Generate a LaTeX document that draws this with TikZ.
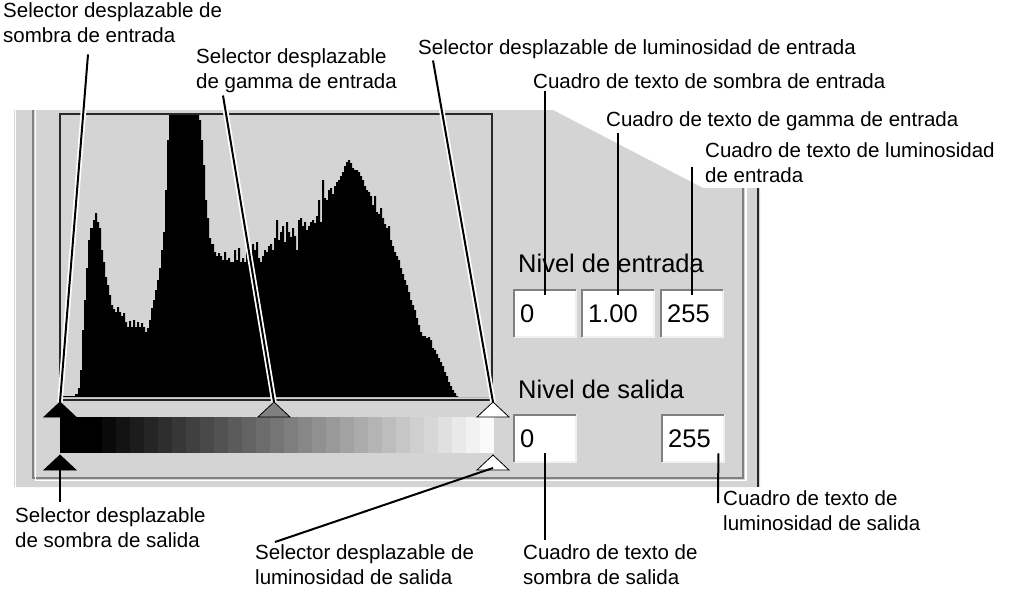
\documentclass[tikz,border=0pt]{standalone}
\usepackage{fontspec}
\setmainfont{Liberation Sans}
\usetikzlibrary{calc}
\definecolor{panelgray}{RGB}{212,212,212}
\definecolor{edgedark}{RGB}{128,128,128}
\definecolor{edgeblack}{RGB}{40,40,40}
\definecolor{gammagray}{RGB}{128,128,128}
\definecolor{edgelight}{RGB}{240,240,240}

\begin{document}
\begin{tikzpicture}[x=1pt, y=-1pt,
    note/.style={font=\fontsize{20.5}{25}\selectfont, inner sep=0pt, align=left},
    uitext/.style={font=\fontsize{25.5}{30}\selectfont, inner sep=0pt},
    valbox/.style={uitext, fill=white, anchor=north west, minimum height=47pt,
                   text width=50pt, inner xsep=6pt, align=left},
    leader/.style={black, line width=2pt},
    haloleader/.style={leader, preaction={draw, white, line width=5.5pt}},
    thumb/.style={draw=black, line width=0.8pt}]
    \useasboundingbox (0,0) rectangle (1020,590);

    % Dialog panel with the cut corner
    \fill[panelgray] (14,110) -- (553,110) -- (703,188) -- (760,188) -- (760,487) -- (14,487) -- cycle;
    \draw[white, line width=1.5pt] (15.5,110) -- (15.5,487);
    \draw[edgedark, line width=1.5pt] (33,110) |- (743,478) -- (743,188);
    \draw[white, line width=1.5pt] (35.5,110) |- (746,480.5) -- (746,188);
    \draw[edgeblack, line width=2.5pt] (758,188) -- (758,487);

    % Histogram
    \begin{scope}
        \clip (60,114) rectangle (492,400);
        \fill[black] (62,397) -- plot[const plot] coordinates {
            (62,396) (75,394) (78,388) (80,370) (82,330) (84,300) (86,268) (88,240)
            (90,228) (93,220) (95,213) (97,222) (99,228) (101,250) (103,262) (105,277)
            (107,285) (109,295) (111,305) (113,309) (115,312) (117,307) (119,312)
            (121,316) (123,313) (125,322) (127,327) (129,321) (131,327) (133,320)
            (135,327) (137,322) (139,327) (141,323) (143,327) (145,332) (147,328)
            (149,320) (151,308) (153,300) (155,290) (157,280) (159,268) (161,250)
            (163,232) (165,190) (167,140) (169,110) (199,120) (201,140) (203,165)
            (205,200) (207,218) (209,238) (211,244) (214,252) (216,256) (218,253)
            (220,256) (222,260) (224,252) (226,260) (228,258) (230,262) (232,262)
            (234,250) (236,260) (238,248) (240,262) (242,258) (244,262) (246,252)
            (248,246) (250,260) (252,244) (254,250) (256,242) (258,258) (260,262)
            (262,256) (264,250) (266,252) (268,246) (270,244) (272,250) (274,238)
            (276,220) (278,240) (280,232) (282,226) (284,242) (286,222) (288,232)
            (290,237) (292,228) (294,236) (296,250) (298,220) (300,218) (302,226)
            (304,222) (306,230) (308,226) (310,222) (312,220) (314,223) (316,216)
            (318,200) (320,222) (322,180) (324,198) (326,200) (328,190) (330,188)
            (332,194) (334,186) (336,182) (338,180) (340,176) (342,172) (344,166)
            (346,162) (348,160) (350,163) (352,168) (354,170) (356,170) (358,172)
            (360,176) (362,180) (364,186) (366,190) (368,192) (370,196) (372,205)
            (374,196) (376,212) (378,214) (380,208) (382,218) (384,224) (386,228)
            (388,226) (390,240) (392,246) (394,252) (396,256) (398,260) (400,268)
            (402,274) (404,280) (406,285) (408,292) (410,300) (412,305) (414,310)
            (416,318) (418,325) (420,332) (422,336) (424,336) (426,338) (428,337)
            (430,340) (432,348) (434,350) (436,354) (438,358) (440,362) (442,366)
            (444,372) (446,376) (448,382) (450,386) (452,390) (454,393) (456,396)
            (458,397) (490,397)} -- (490,397) -- cycle;
    \end{scope}
    \draw[edgeblack, line width=2pt] (60,114) rectangle (492,400);

    % Output gradient
    \fill[black] (60,417) rectangle (102,453);
    \foreach \i in {0,...,27} {
        \pgfmathsetmacro\lev{min(98,4+\i*3.5)}
        \fill[white!\lev!black] (102+\i*14,417) rectangle ++(14.4,36);
    }

    % Sliders
    \coordinate (inShadow) at (60,402);
    \coordinate (inGamma) at (274,402);
    \coordinate (inHigh) at (493,402);
    \coordinate (outShadow) at (60,455);
    \coordinate (outHigh) at (493,455);
    \foreach \pos/\col in {inShadow/black, inGamma/gammagray, inHigh/white, outShadow/black, outHigh/white}
        \filldraw[thumb, fill=\col] (\pos) -- ++(16,15) -- ++(-32,0) -- cycle;

    % Level fields
    \node[uitext, anchor=base west] (nivelIn) at (518,272) {Nivel de entrada};
    \node[uitext, anchor=base west] (nivelOut) at (518,398) {Nivel de salida};
    \node[valbox] (boxA) at (514,290) {0};
    \node[valbox, text width=60pt] (boxB) at (582,290) {1.00};
    \node[valbox] (boxC) at (661,290) {255};
    \node[valbox] (boxD) at (514,415) {0};
    \node[valbox] (boxE) at (662,415) {255};
    \foreach \b in {boxA,boxB,boxC,boxD,boxE} {
        \draw[edgelight, line width=2pt] (\b.south west) -| (\b.north east);
        \draw[edgedark, line width=2.5pt] (\b.south west) |- (\b.north east);
    }

    % Callout texts
    \node[note, anchor=north west] (selSombraIn) at (3,2) {Selector desplazable de\\sombra de entrada};
    \node[note, anchor=north west] (selGammaIn) at (196,48) {Selector desplazable\\de gamma de entrada};
    \node[note, anchor=base west] (selLumIn) at (418,54) {Selector desplazable de luminosidad de entrada};
    \node[note, anchor=base west] (txtSombraIn) at (533,88) {Cuadro de texto de sombra de entrada};
    \node[note, anchor=base west] (txtGammaIn) at (606,126) {Cuadro de texto de gamma de entrada};
    \node[note, anchor=north west] (txtLumIn) at (705,142) {Cuadro de texto de luminosidad\\de entrada};
    \node[note, anchor=north west] (selSombraOut) at (15,507) {Selector desplazable\\de sombra de salida};
    \node[note, anchor=north west] (selLumOut) at (255,544) {Selector desplazable de\\luminosidad de salida};
    \node[note, anchor=north west] (txtSombraOut) at (523,544) {Cuadro de texto de\\sombra de salida};
    \node[note, anchor=north west] (txtLumOut) at (723,490) {Cuadro de texto de\\luminosidad de salida};

    % Leaders
    \draw[haloleader] ($(selSombraIn.south west)+(85,12)$) -- (inShadow);
    \draw[haloleader] ($(selGammaIn.south west)+(27,3)$) -- (inGamma);
    \draw[haloleader] ($(selLumIn.south west)+(15,2)$) -- (inHigh);
    \draw[leader] ($(boxA.north |- txtSombraIn.south)+(0,3)$) -- ([yshift=-5pt]boxA.north);
    \draw[leader] ($(boxB.north |- txtGammaIn.south)+(0,3)$) -- ([yshift=-5pt]boxB.north);
    \draw[leader] ($(boxC.north |- txtLumIn.west)+(0,5)$) -- ([yshift=-5pt]boxC.north);
    \draw[leader] (outShadow) -- ($(outShadow |- selSombraOut.north)+(0,-5)$);
    \draw[leader] ($(outHigh)+(0,13)$) -- ($(selLumOut.north west)+(20,-2)$);
    \draw[leader] ([yshift=9pt]boxD.south) -- ($(boxD.south |- txtSombraOut.north)+(0,-4)$);
    \draw[leader] ($(boxE.south east)+(-6,-9)$) -- ($(txtLumOut.north west)+(-5,13)$);
\end{tikzpicture}
\end{document}
